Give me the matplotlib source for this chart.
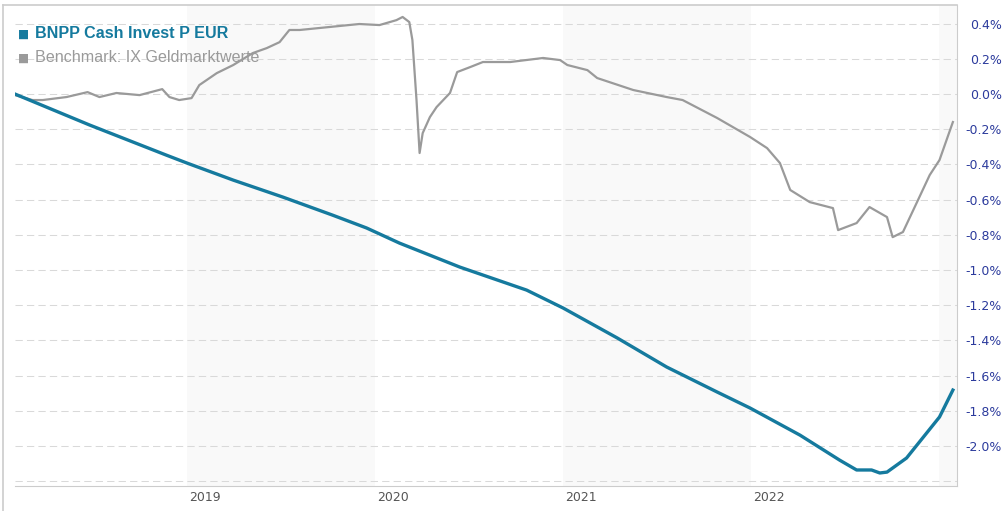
import matplotlib
matplotlib.use("Agg")
import matplotlib.pyplot as plt
import matplotlib.transforms as mtrans
from matplotlib.lines import Line2D
import pandas as pd

# fund (blue) - performance in %
fund_dates = ["2018-02-01", "2018-03-01", "2018-06-26", "2018-11-22", "2019-01-01",
              "2019-04-01", "2019-07-06", "2019-10-11", "2019-12-16", "2020-02-18",
              "2020-06-14", "2020-10-22", "2021-01-01", "2021-04-16", "2021-07-21",
              "2021-10-27", "2021-12-30", "2022-04-06", "2022-06-22", "2022-07-25",
              "2022-08-23", "2022-09-08", "2022-09-22", "2022-10-30", "2022-12-08",
              "2023-01-02", "2023-01-28"]
fund_vals = [0.0, -0.034, -0.176, -0.347, -0.392,
             -0.489, -0.585, -0.688, -0.761, -0.847,
             -0.983, -1.114, -1.216, -1.386, -1.551,
             -1.693, -1.784, -1.938, -2.080, -2.136,
             -2.136, -2.153, -2.148, -2.068, -1.926,
             -1.835, -1.682]

# benchmark (grey)
bench_dates = ["2018-02-01", "2018-03-07", "2018-03-27", "2018-05-12", "2018-06-22",
               "2018-07-15", "2018-08-17", "2018-10-01", "2018-11-14", "2018-11-28",
               "2018-12-17", "2019-01-10", "2019-01-25", "2019-02-28", "2019-04-01",
               "2019-05-09", "2019-06-05", "2019-06-30", "2019-07-19", "2019-08-08",
               "2019-10-05", "2019-12-02", "2020-01-10", "2020-02-12", "2020-02-24",
               "2020-03-08", "2020-03-14", "2020-03-22", "2020-03-28", "2020-04-03",
               "2020-04-17", "2020-04-30", "2020-05-26", "2020-06-09", "2020-07-04",
               "2020-07-29", "2020-09-20", "2020-11-23", "2020-12-26", "2021-01-09",
               "2021-02-17", "2021-03-08", "2021-05-17", "2021-07-21", "2021-08-21",
               "2021-10-27", "2021-12-30", "2022-02-01", "2022-02-26", "2022-03-18",
               "2022-04-25", "2022-06-09", "2022-06-19", "2022-07-25", "2022-08-19",
               "2022-09-22", "2022-10-03", "2022-10-23", "2022-11-24", "2022-12-14",
               "2023-01-02", "2023-01-28"]
bench_vals = [-0.006, -0.034, -0.034, -0.017, 0.011,
              -0.017, 0.006, -0.006, 0.028, -0.017,
              -0.034, -0.023, 0.051, 0.119, 0.165,
              0.233, 0.261, 0.295, 0.364, 0.364,
              0.381, 0.398, 0.392, 0.420, 0.438,
              0.409, 0.307, -0.034, -0.335, -0.222,
              -0.131, -0.074, 0.006, 0.125, 0.153,
              0.182, 0.182, 0.205, 0.193, 0.165,
              0.136, 0.091, 0.023, -0.017, -0.034,
              -0.136, -0.244, -0.307, -0.392, -0.545,
              -0.614, -0.648, -0.773, -0.733, -0.642,
              -0.699, -0.813, -0.784, -0.585, -0.460,
              -0.375, -0.159]

y_ticks = [-2.2, -2.0, -1.8, -1.6, -1.4, -1.2, -1.0, -0.8, -0.6, -0.4, -0.2, 0.0, 0.2, 0.4]
y_labels = ["", "-2.0%", "-1.8%", "-1.6%", "-1.4%", "-1.2%", "-1.0%", "-0.8%",
            "-0.6%", "-0.4%", "-0.2%", "0.0%", "0.2%", "0.4%"]
year_ticks = ["2019-01-01", "2020-01-01", "2021-01-01", "2022-01-01"]
year_labels = ["2019", "2020", "2021", "2022"]
bands = [("2019-01-01", "2020-01-01"), ("2021-01-01", "2022-01-01"), ("2023-01-01", "2023-02-05")]

fund_name = "BNPP Cash Invest P EUR"
bench_name = "Benchmark: IX Geldmarktwerte"

blue = "#157a9e"
grey = "#9a9a9a"
W, H = 1006, 511

fig = plt.figure(figsize=(W/100, H/100), dpi=100)
ax = fig.add_axes([15/W, 1-486/H, (957-15)/W, (486-5)/H])

for b0, b1 in bands:
    ax.axvspan(pd.Timestamp(b0), pd.Timestamp(b1), color="#f9f9f9", lw=0, zorder=0)

for t in y_ticks:
    ax.axhline(t, color="#d9d9d9", lw=0.75, ls=(0, (7, 4)), zorder=1)

ax.plot(pd.to_datetime(bench_dates), bench_vals, color=grey, lw=1.6, zorder=3)
ax.plot(pd.to_datetime(fund_dates), fund_vals, color=blue, lw=2.4, zorder=4)

ax.set_xlim(pd.Timestamp("2018-02-01"), pd.Timestamp("2023-02-05"))
ax.set_ylim(-2.227, 0.506)

ax.yaxis.tick_right()
ax.set_yticks(y_ticks)
ax.set_yticklabels(y_labels)
ax.tick_params(axis="y", length=0, pad=32.4, labelsize=9, labelcolor="#2b3a9c")
for lab in ax.get_yticklabels():
    lab.set_horizontalalignment("right")

ax.set_xticks(pd.to_datetime(year_ticks))
ax.set_xticklabels(year_labels)
ax.tick_params(axis="x", length=0, pad=3.5, labelsize=9, labelcolor="#555555")
off = mtrans.ScaledTranslation(2/100, 0, fig.dpi_scale_trans)
for lab in ax.get_xticklabels():
    lab.set_horizontalalignment("left")
    lab.set_transform(lab.get_transform() + off)

for s in ["top", "left"]:
    ax.spines[s].set_visible(False)
ax.spines["bottom"].set_color("#cccccc")
ax.spines["right"].set_color("#cccccc")

# outer frame lines (top and left)
fig.add_artist(Line2D([3/W, 957/W], [1-5/H, 1-5/H], color="#cccccc", lw=1.2))
fig.add_artist(Line2D([3/W, 3/W], [0, 1-5/H], color="#cccccc", lw=1.2))

# legend
fig.text(18/W, 1-34/H, "\u25A0", color=blue, fontsize=8.5, va="center", family="DejaVu Sans")
fig.text(35/W, 1-34/H, fund_name, color=blue, fontsize=11.6, weight="bold",
         va="center", family="Liberation Sans")
fig.text(18/W, 1-58/H, "\u25A0", color=grey, fontsize=8.5, va="center", family="DejaVu Sans")
fig.text(35/W, 1-58/H, bench_name, color=grey, fontsize=11.6,
         va="center", family="Liberation Sans")

fig.savefig("out.png", dpi=100)
